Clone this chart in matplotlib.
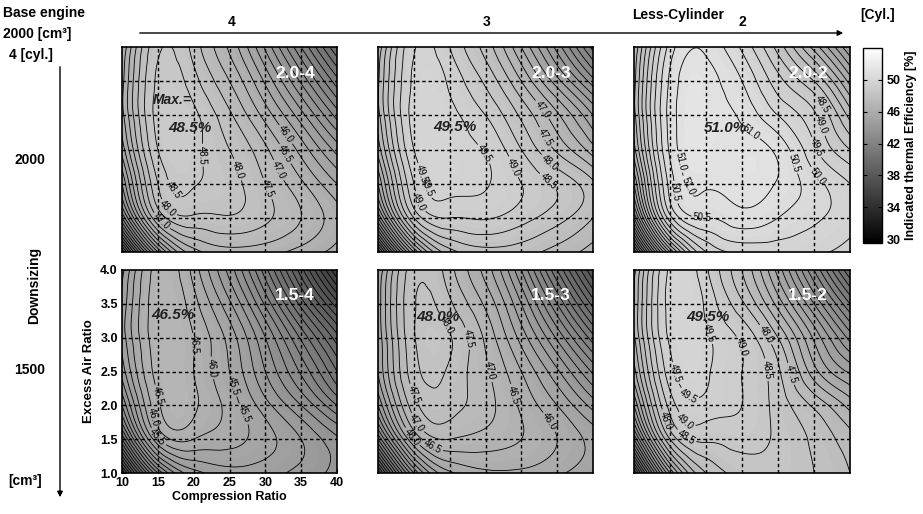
import matplotlib
matplotlib.use('Agg')
import matplotlib.pyplot as plt
import matplotlib.tri as mtri
from matplotlib.colors import Normalize
from matplotlib.cm import ScalarMappable
from matplotlib.patches import FancyArrowPatch
import numpy as np

plt.rcParams['font.family'] = ['Liberation Sans', 'DejaVu Sans']

# grid of the maps: compression ratio (x) and excess air ratio (y)
comp_ratio = [10, 15, 20, 25, 30, 35, 40]
air_ratio = [1.0, 1.5, 2.0, 2.5, 3.0, 3.5, 4.0]

# indicated thermal efficiency [%], one row per air ratio (1.0 -> 4.0)
eff_20_4 = [[37.0, 43.5, 46.3, 46.8, 46.7, 46.3, 45.8],
            [42.0, 47.0, 47.9, 47.95, 47.6, 47.0, 46.2],
            [44.0, 48.0, 48.55, 48.2, 47.5, 46.6, 45.5],
            [45.2, 48.5, 48.7, 48.0, 47.1, 45.8, 44.3],
            [45.8, 48.7, 48.65, 47.6, 46.3, 44.7, 42.8],
            [45.8, 48.6, 48.2, 47.0, 45.4, 43.4, 41.2],
            [45.5, 48.4, 47.8, 46.4, 44.4, 42.0, 39.5]]
eff_20_3 = [[38.0, 44.5, 47.3, 47.8, 47.7, 47.3, 46.8],
            [43.0, 48.0, 49.0, 49.05, 48.7, 48.2, 47.5],
            [45.0, 49.0, 49.7, 49.55, 49.0, 48.4, 47.6],
            [46.2, 49.5, 49.8, 49.45, 48.5, 47.4, 46.2],
            [46.8, 49.7, 49.7, 49.0, 47.9, 46.6, 45.0],
            [46.9, 49.6, 49.4, 48.4, 47.0, 45.2, 43.2],
            [46.6, 49.45, 49.0, 47.8, 46.0, 43.8, 41.3]]
eff_20_2 = [[38.5, 45.5, 49.0, 49.6, 49.7, 49.6, 49.3],
            [43.0, 49.3, 50.5, 50.8, 50.5, 50.1, 49.7],
            [45.0, 50.2, 51.1, 51.2, 50.95, 50.2, 49.5],
            [46.3, 50.6, 51.3, 51.2, 50.85, 49.6, 48.5],
            [46.8, 50.7, 51.3, 50.9, 50.0, 49.1, 47.3],
            [46.8, 50.6, 51.2, 50.5, 49.2, 48.0, 45.8],
            [46.5, 50.2, 50.9, 49.9, 48.3, 46.3, 44.0]]
eff_15_4 = [[36.0, 42.0, 44.3, 44.8, 44.7, 44.3, 43.8],
            [40.5, 45.4, 46.0, 45.7, 45.2, 44.5, 43.6],
            [43.0, 46.4, 46.6, 45.8, 44.7, 43.5, 42.0],
            [44.2, 46.7, 46.5, 45.5, 44.0, 42.4, 40.5],
            [44.7, 46.8, 46.5, 45.3, 43.5, 41.4, 39.2],
            [44.6, 46.8, 46.2, 44.6, 42.4, 39.8, 37.2],
            [44.3, 46.7, 45.8, 43.8, 41.2, 38.2, 35.0]]
eff_15_3 = [[37.0, 43.0, 45.4, 45.9, 45.9, 45.6, 45.1],
            [41.5, 46.0, 47.0, 46.8, 46.5, 46.0, 45.3],
            [44.0, 47.3, 47.7, 47.2, 46.4, 45.5, 44.3],
            [45.0, 47.8, 47.9, 47.1, 46.0, 44.6, 42.9],
            [45.1, 47.95, 48.05, 46.9, 45.3, 43.4, 41.2],
            [45.2, 47.95, 47.6, 46.4, 44.5, 42.0, 39.3],
            [45.0, 47.8, 47.2, 45.8, 43.5, 40.5, 37.5]]
eff_15_2 = [[37.5, 44.5, 47.5, 48.2, 48.3, 48.0, 47.5],
            [42.0, 47.5, 48.6, 48.7, 48.4, 47.9, 47.2],
            [44.5, 48.7, 49.3, 49.0, 48.3, 47.4, 46.3],
            [45.8, 49.3, 49.6, 49.0, 48.1, 46.2, 44.9],
            [46.4, 49.6, 49.6, 48.9, 47.5, 45.4, 43.3],
            [46.5, 49.7, 49.4, 48.1, 46.3, 44.0, 41.5],
            [46.3, 49.6, 49.1, 47.5, 45.3, 42.5, 39.5]]

panel_names = ['2.0-4', '2.0-3', '2.0-2', '1.5-4', '1.5-3', '1.5-2']
panel_data = [eff_20_4, eff_20_3, eff_20_2, eff_15_4, eff_15_3, eff_15_2]
peak_text = ['48.5%', '49.5%', '51.0%', '46.5%', '48.0%', '49.5%']
cyl_labels = ['4', '3', '2']
size_labels = ['2000', '1500']

# where the contour values are written (compression ratio, air ratio)
label_pos = [
    [(22.3, 2.42), (17, 1.9), (26, 2.2), (16.4, 1.64), (29.7, 1.9), (15.7, 1.47), (31.3, 2.17), (32, 2.39), (32.3, 2.68)],
    [(25, 2.45), (19, 2.23), (17, 1.95), (28.8, 2.24), (16.3, 1.76), (33, 1.95), (32.5, 3.05), (33.6, 2.7), (33.9, 2.3)],
    [(25.7, 2.68), (19, 2.4), (32, 2.3), (18, 2.0), (36, 2.15), (19.5, 1.6), (35.8, 2.55), (15.4, 1.87), (35.8, 2.85), (36, 3.15)],
    [(15.3, 2.15), (19, 2.9), (22.3, 2.55), (14.6, 1.83), (24.6, 2.26), (15, 1.53), (27.6, 1.9)],
    [(17.5, 3.08), (22.2, 2.98), (16, 2.2), (26, 2.52), (16, 1.78), (28.8, 2.15), (17.5, 1.37), (32.6, 1.66), (14.6, 1.52)],
    [(18, 2.55), (20.5, 3.07), (24.4, 2.85), (17, 2.05), (27.9, 2.52), (17, 1.75), (28.2, 3.04), (17.2, 1.53), (14.4, 1.78), (32, 2.47)],
]
peak_xy = [(0.316, 0.605), (0.358, 0.61), (0.423, 0.605), (0.237, 0.778), (0.279, 0.768), (0.344, 0.768)]

W, H = 923, 514
fig = plt.figure(figsize=(W / 100, H / 100), dpi=100)

def box(l, t, r, b):
    return [l / W, 1 - b / H, (r - l) / W, (b - t) / H]

def fxy(x, y):
    return (x / W, 1 - y / H)

cols = [(122, 337), (378, 593), (634, 850)]
rows = [(47, 252), (270, 473)]
norm = Normalize(29.5, 54.0)
levels = np.arange(29.5, 53.01, 0.5)

cx, cy = np.meshgrid(comp_ratio, air_ratio)
tri = mtri.Triangulation(cx.ravel(), cy.ravel() * 10)
refiner = mtri.UniformTriRefiner(tri)

for i, name in enumerate(panel_names):
    r, c = divmod(i, 3)
    ax = fig.add_axes(box(cols[c][0], rows[r][0], cols[c][1], rows[r][1]))
    ax.set_xlim(10, 40)
    ax.set_ylim(1.0, 4.0)
    z = np.array(panel_data[i]).ravel()
    rtri, rz = refiner.refine_field(z, subdiv=4)
    t2 = mtri.Triangulation(rtri.x, rtri.y / 10, rtri.triangles)
    ax.tricontourf(t2, rz, levels=np.arange(29.5, 53.01, 0.25), cmap='gray', norm=norm)
    cs = ax.tricontour(t2, rz, levels=levels, colors='k', linewidths=0.6)
    ax.clabel(cs, inline=True, fmt='%.1f', fontsize=7, manual=label_pos[i], inline_spacing=2)
    for v in comp_ratio[1:-1]:
        ax.axvline(v, color='k', ls=(0, (2.5, 2)), lw=1)
    for v in air_ratio[1:-1]:
        ax.axhline(v, color='k', ls=(0, (2.5, 2)), lw=1)
    for s in ax.spines.values():
        s.set_linewidth(1.2)
    ax.text(0.805, 0.873, name, transform=ax.transAxes, color='white', fontsize=12.5,
            fontweight='bold', ha='center', va='center')
    ax.text(peak_xy[i][0], peak_xy[i][1], peak_text[i], transform=ax.transAxes, color='#222222',
            fontsize=11, fontweight='bold', fontstyle='italic', ha='center', va='center')
    if i == 0:
        ax.text(0.233, 0.74, 'Max.=', transform=ax.transAxes, color='#222222',
                fontsize=10, fontweight='bold', fontstyle='italic', ha='center', va='center')
    if i == 3:
        ax.set_xticks(comp_ratio)
        ax.set_yticks(air_ratio)
        ax.set_yticklabels(['%.1f' % a for a in air_ratio])
        ax.tick_params(direction='in', length=3, labelsize=9, pad=3)
        plt.setp(ax.get_xticklabels() + ax.get_yticklabels(), fontweight='bold')
        ax.set_xlabel('Compression Ratio', fontsize=9, fontweight='bold', labelpad=1)
        ax.set_ylabel('Excess Air Ratio', fontsize=9.5, fontweight='bold', labelpad=4)
    else:
        ax.set_xticks([])
        ax.set_yticks([])

# colorbar
cax = fig.add_axes(box(863, 48, 882, 243))
cb = fig.colorbar(ScalarMappable(norm=norm, cmap='gray'), cax=cax)
cb.set_ticks([30, 34, 38, 42, 46, 50])
cb.ax.tick_params(direction='in', length=3, labelsize=9, left=True, right=True)
plt.setp(cb.ax.get_yticklabels(), fontweight='bold')
cb.outline.set_linewidth(1)
cb.set_label('Indicated thermal Efficiency [%]', fontsize=9, fontweight='bold', labelpad=3)

# header and side annotations
fig.text(*fxy(3, 13), 'Base engine', fontsize=10, fontweight='bold', va='center')
fig.text(*fxy(3, 34), '2000 [cm³]', fontsize=10, fontweight='bold', va='center')
fig.text(*fxy(9, 55), '4 [cyl.]', fontsize=10, fontweight='bold', va='center')
for x, t in zip([232, 487, 742], cyl_labels):
    fig.text(*fxy(x, 22), t, fontsize=10, fontweight='bold', ha='center', va='center')
fig.text(*fxy(678, 15), 'Less-Cylinder', fontsize=10, fontweight='bold', ha='center', va='center')
fig.text(*fxy(878, 15), '[Cyl.]', fontsize=10, fontweight='bold', ha='center', va='center')
fig.add_artist(FancyArrowPatch(fxy(137, 33), fxy(846, 33), transform=fig.transFigure,
                               arrowstyle='-|>', mutation_scale=8, lw=1, color='k'))
fig.add_artist(FancyArrowPatch(fxy(60, 64), fxy(60, 500), transform=fig.transFigure,
                               arrowstyle='-|>', mutation_scale=8, lw=1, color='k'))
for y, t in zip([160, 370], size_labels):
    fig.text(*fxy(30, y), t, fontsize=10, fontweight='bold', ha='center', va='center')
fig.text(*fxy(34, 285), 'Downsizing', fontsize=10, fontweight='bold', ha='center', va='center', rotation=90)
fig.text(*fxy(25, 481), '[cm³]', fontsize=10, fontweight='bold', ha='center', va='center')

fig.savefig('out.png', dpi=100)
